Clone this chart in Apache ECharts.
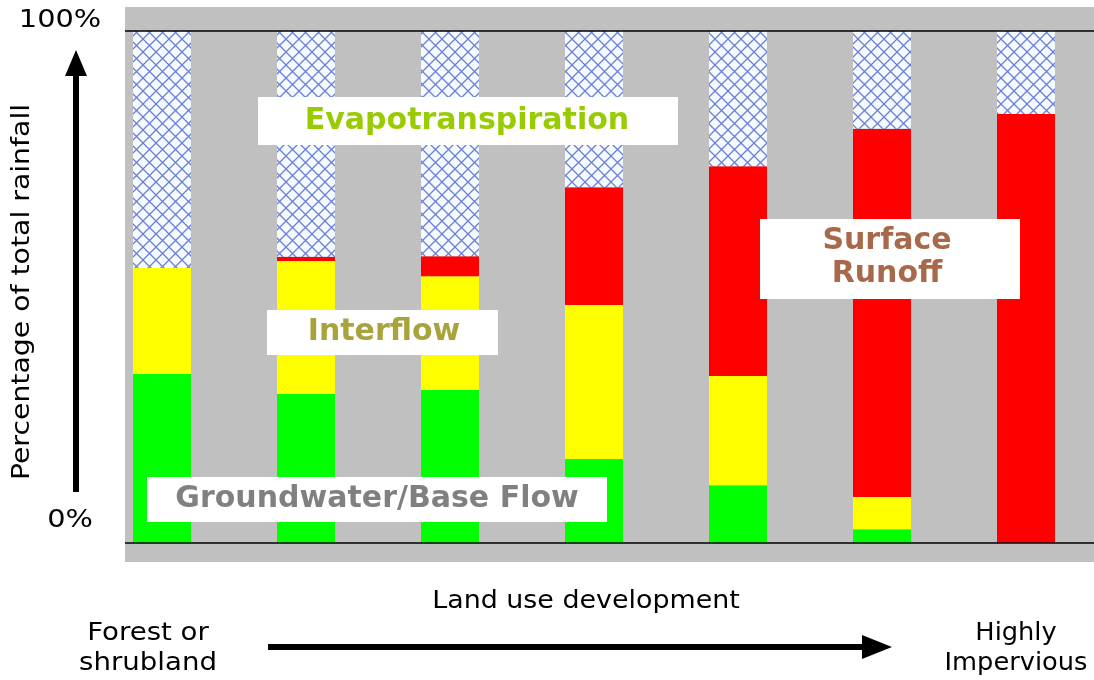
<!DOCTYPE html>
<html>
<head>
<meta charset="utf-8">
<script src="https://cdn.jsdelivr.net/npm/echarts@6/dist/echarts.min.js"></script>
<style>
  html, body { margin: 0; padding: 0; background: #fff; }
  #chart { width: 1094px; height: 680px; }
</style>
</head>
<body>
<div id="chart"></div>
<script>
// stages of land use development, forest -> highly impervious
var stages = ['Forest', 'Stage 2', 'Stage 3', 'Stage 4', 'Stage 5', 'Stage 6', 'Impervious'];
// percentage of total rainfall
var groundwater = [33.0, 29.1, 29.9, 16.4, 11.3, 2.7, 0];
var interflow   = [20.7, 26.0, 22.2, 30.1, 21.3, 6.3, 0];
var runoff      = [0, 0.8, 3.9, 23.0, 41.0, 71.9, 83.8];
var evapo       = [46.3, 44.1, 44.0, 30.5, 26.4, 19.1, 16.2];
var yTicks = ['0%', '100%'];
var yRefs = [0, 100];

// crosshatch pattern for evapotranspiration
function hatch() {
  var n = 13;
  var c = document.createElement('canvas');
  c.width = n; c.height = n;
  var ctx = c.getContext('2d');
  ctx.fillStyle = '#f4faff';
  ctx.fillRect(0, 0, n, n);
  ctx.strokeStyle = '#6a7fd6';
  ctx.lineWidth = 1.3;
  ctx.beginPath();
  ctx.moveTo(0, 0); ctx.lineTo(n, n);
  ctx.moveTo(n, 0); ctx.lineTo(0, n);
  ctx.stroke();
  return c;
}

var myChart = echarts.init(document.getElementById('chart'));

var hidden = {
  axisLine: {show: false}, axisTick: {show: false},
  axisLabel: {show: false}, splitLine: {show: false}
};
var yRange = {type: 'value', min: -3.71, max: 104.69};

function bar(name, color, data) {
  return {
    name: name, type: 'bar', stack: 'total',
    xAxisIndex: 1, yAxisIndex: 1,
    barWidth: 58, silent: true,
    itemStyle: {color: color},
    data: data
  };
}

function txt(x, y, s, font, color, extra) {
  var o = {type: 'text', x: x, y: y, z: 51, style: {text: s, fill: color, font: font,
    textAlign: 'center', textVerticalAlign: 'middle'}};
  return Object.assign(o, extra || {});
}

var boldFont = 'bold 30px "DejaVu Sans"';
var plainFont = '24px "DejaVu Sans"';

option = {
  animation: false,
  grid: [
    // gray plotting area with the 0% and 100% lines
    {left: 125, right: 0, top: 7, bottom: 118, show: true, backgroundColor: '#c0c0c0', borderWidth: 0},
    // bars: first and last stage sit on the grid edges
    {left: 162, right: 68, top: 7, bottom: 118}
  ],
  xAxis: [
    Object.assign({type: 'value', min: 0, max: 1, gridIndex: 0}, hidden),
    Object.assign({type: 'category', data: stages, gridIndex: 1, boundaryGap: false}, hidden)
  ],
  yAxis: [
    Object.assign({gridIndex: 0}, yRange, hidden),
    Object.assign({gridIndex: 1}, yRange, hidden)
  ],
  series: [
    {
      type: 'line', xAxisIndex: 0, yAxisIndex: 0, silent: true,
      showSymbol: false, symbol: 'none', data: [[0.5, 0]],
      markLine: {
        symbol: 'none', silent: true, label: {show: false},
        lineStyle: {color: '#000', width: 1.5, type: 'solid'},
        data: yRefs.map(function (v) { return {yAxis: v}; })
      }
    },
    bar('Groundwater/Base Flow', '#00ff00', groundwater),
    bar('Interflow', '#ffff00', interflow),
    bar('Surface Runoff', '#ff0000', runoff),
    bar('Evapotranspiration', {image: hatch(), repeat: 'repeat'}, evapo)
  ],
  graphic: [
    // series labels
    {type: 'rect', shape: {x: 258, y: 97, width: 420, height: 48}, style: {fill: '#fff'}, z: 50},
    txt(467, 121, 'Evapotranspiration', boldFont, '#99cc00'),
    {type: 'rect', shape: {x: 267, y: 310, width: 231, height: 45}, style: {fill: '#fff'}, z: 50},
    txt(384, 332, 'Interflow', boldFont, '#a9a33d'),
    {type: 'rect', shape: {x: 760, y: 219, width: 260, height: 80}, style: {fill: '#fff'}, z: 50},
    txt(887, 258, 'Surface\nRunoff', boldFont, '#a8684a', {style: {text: 'Surface\nRunoff', fill: '#a8684a',
      font: boldFont, lineHeight: 33, textAlign: 'center', textVerticalAlign: 'middle'}}),
    {type: 'rect', shape: {x: 147, y: 477, width: 460, height: 45}, style: {fill: '#fff'}, z: 50},
    txt(377, 499, 'Groundwater/Base Flow', boldFont, '#808080'),

    // y axis annotations
    txt(60, 21, yTicks[1], plainFont, '#000', {scaleX: 1.2}),
    txt(70, 521, yTicks[0], plainFont, '#000', {scaleX: 1.2}),
    {type: 'line', shape: {x1: 76, y1: 492, x2: 76, y2: 70}, style: {stroke: '#000', lineWidth: 6}},
    {type: 'polygon', shape: {points: [[76, 50], [65, 76], [87, 76]]}, style: {fill: '#000'}},
    txt(23, 292, 'Percentage of total rainfall', plainFont, '#000', {rotation: Math.PI / 2, scaleX: 1.18}),

    // x axis annotations
    txt(586, 602, 'Land use development', plainFont, '#000', {scaleX: 1.12}),
    {type: 'text', x: 148, y: 649, z: 51, scaleX: 1.15, style: {text: 'Forest or\nshrubland', fill: '#000',
      font: plainFont, lineHeight: 30, textAlign: 'center', textVerticalAlign: 'middle'}},
    {type: 'text', x: 1016, y: 649, z: 51, scaleX: 1.07, style: {text: 'Highly\nImpervious', fill: '#000',
      font: plainFont, lineHeight: 30, textAlign: 'center', textVerticalAlign: 'middle'}},
    {type: 'line', shape: {x1: 268, y1: 647, x2: 865, y2: 647}, style: {stroke: '#000', lineWidth: 6}},
    {type: 'polygon', shape: {points: [[892, 647], [862, 635], [862, 659]]}, style: {fill: '#000'}}
  ]
};

myChart.setOption(option, true);
</script>
</body>
</html>
